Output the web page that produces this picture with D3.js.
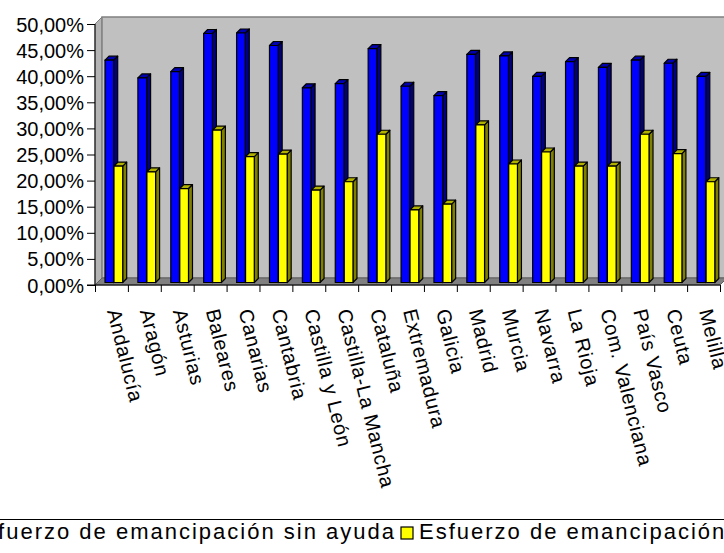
<!DOCTYPE html>
<html><head><meta charset="utf-8">
<script src="https://cdn.jsdelivr.net/npm/d3@7"></script>
<style>body{margin:0;background:#fff}svg{display:block}text{font-family:"Liberation Sans",Arial,sans-serif}</style>
</head><body>
<script>
const categories = ["Andalucía","Aragón","Asturias","Baleares","Canarias","Cantabria","Castilla y León","Castilla-La Mancha","Cataluña","Extremadura","Galicia","Madrid","Murcia","Navarra","La Rioja","Com. Valenciana","País Vasco","Ceuta","Melilla"];
const sinAyuda = [42.6,39.2,40.4,47.7,47.8,45.4,37.3,38.1,44.8,37.6,35.8,43.7,43.4,39.5,42.3,41.2,42.6,42.0,39.5];
const conAyuda = [22.3,21.2,18.0,29.2,24.1,24.6,17.7,19.3,28.4,13.9,15.0,30.2,22.7,25.0,22.3,22.3,28.4,24.7,19.3];
const seriesNames = ["Esfuerzo de emancipación sin ayuda","Esfuerzo de emancipación con ayuda"];
const yTicks = [0,5,10,15,20,25,30,35,40,45,50];

const W=724,H=553;
const svg=d3.select("body").append("svg").attr("width",W).attr("height",H);
const x0=95,x1=720,yb=285,yt=24,dd=7;
const x=d3.scaleBand().domain(categories).range([x0,x1]).padding(0);
const xe=d3.scaleLinear().domain([0,categories.length]).range([x0,x1]);
const y=d3.scaleLinear().domain([0,50]).range([yb,yt]);
const loc=d3.formatLocale({decimal:",",thousands:".",grouping:[3],currency:["","€"]});
const fmt=v=>loc.format(".2f")(v)+"%";

// walls
svg.append("polygon").attr("points",`${x0},${yt} ${x0+dd},${yt-dd} ${x0+dd},${yb-dd} ${x0},${yb}`).attr("fill","#b4b4b4").attr("stroke","#808080");
svg.append("rect").attr("x",x0+dd).attr("y",yt-dd).attr("width",x1-x0).attr("height",yb-yt).attr("fill","#c0c0c0").attr("stroke","#808080").attr("stroke-width",1.5);
svg.append("polygon").attr("points",`${x0},${yb} ${x0+dd},${yb-dd} ${x1+dd},${yb-dd} ${x1},${yb}`).attr("fill","#808080").attr("stroke","#606060");

// bars
const d=4, bw=8.7, off=2.5;
const series=[{vals:sinAyuda,dx:10,front:"#0000ff",side:"#000080",top:"#0000b0"},
              {vals:conAyuda,dx:19,front:"#ffff00",side:"#808000",top:"#b0b000"}];
const g=svg.append("g");
categories.forEach((c,i)=>{
  series.forEach(s=>{
    const bx=x(c)+s.dx, ty=y(s.vals[i])-off, by=yb-off;
    const gg=g.append("g").attr("stroke","#000").attr("stroke-width",1.2).attr("stroke-linejoin","round");
    gg.append("polygon").attr("points",`${bx+bw},${ty} ${bx+bw+d},${ty-d} ${bx+bw+d},${by-d} ${bx+bw},${by}`).attr("fill",s.side);
    gg.append("polygon").attr("points",`${bx},${ty} ${bx+d},${ty-d} ${bx+bw+d},${ty-d} ${bx+bw},${ty}`).attr("fill",s.top);
    gg.append("rect").attr("x",bx).attr("y",ty).attr("width",bw).attr("height",by-ty).attr("fill",s.front);
  });
});

// y axis
const ya=svg.append("g").attr("transform",`translate(${x0},0)`)
  .call(d3.axisLeft(y).tickValues(yTicks).tickFormat(fmt).tickSize(8).tickSizeOuter(0));
ya.selectAll("text").attr("font-size",20).attr("fill","#000").attr("x",-11).attr("dy","0.35em");
ya.selectAll("line,path").attr("stroke","#000");
ya.select(".domain").attr("d",`M0,${yb}V${yt}`);

// x axis
const xa=svg.append("g").attr("transform",`translate(0,${yb})`)
  .call(d3.axisBottom(xe).tickValues(d3.range(0,categories.length+1)).tickFormat("").tickSize(7).tickSizeOuter(0));
xa.selectAll("line,path").attr("stroke","#000");
xa.select(".domain").attr("d",`M${x0-8},0H${x1}`);

svg.append("g").selectAll("text").data(categories).join("text")
  .attr("transform",c=>`translate(${x(c)+x.bandwidth()/2-4.5},311) rotate(76)`)
  .attr("font-size",20).attr("letter-spacing","0.7px").attr("fill","#000").text(c=>c);

// legend
const lg=svg.append("g");
lg.append("line").attr("x1",0).attr("x2",W).attr("y1",519.5).attr("y2",519.5).attr("stroke","#000");
const ls=2.0, fs=22, sw=[401,527];
const t1=lg.append("text").attr("x",sw[0]-5).attr("y",539).attr("text-anchor","end").attr("font-size",fs).attr("letter-spacing",ls+"px").text(seriesNames[0]);
const w1=t1.node().getComputedTextLength();
lg.append("rect").attr("x",sw[0]-5-w1-18).attr("y",sw[1]).attr("width",12).attr("height",12).attr("fill","#0000ff").attr("stroke","#000").attr("stroke-width",1.2);
lg.append("rect").attr("x",sw[0]).attr("y",sw[1]).attr("width",12).attr("height",12).attr("fill","#ffff00").attr("stroke","#000").attr("stroke-width",1.2);
lg.append("text").attr("x",sw[0]+18).attr("y",539).attr("font-size",fs).attr("letter-spacing",ls+"px").text(seriesNames[1]);
</script>
</body></html>
